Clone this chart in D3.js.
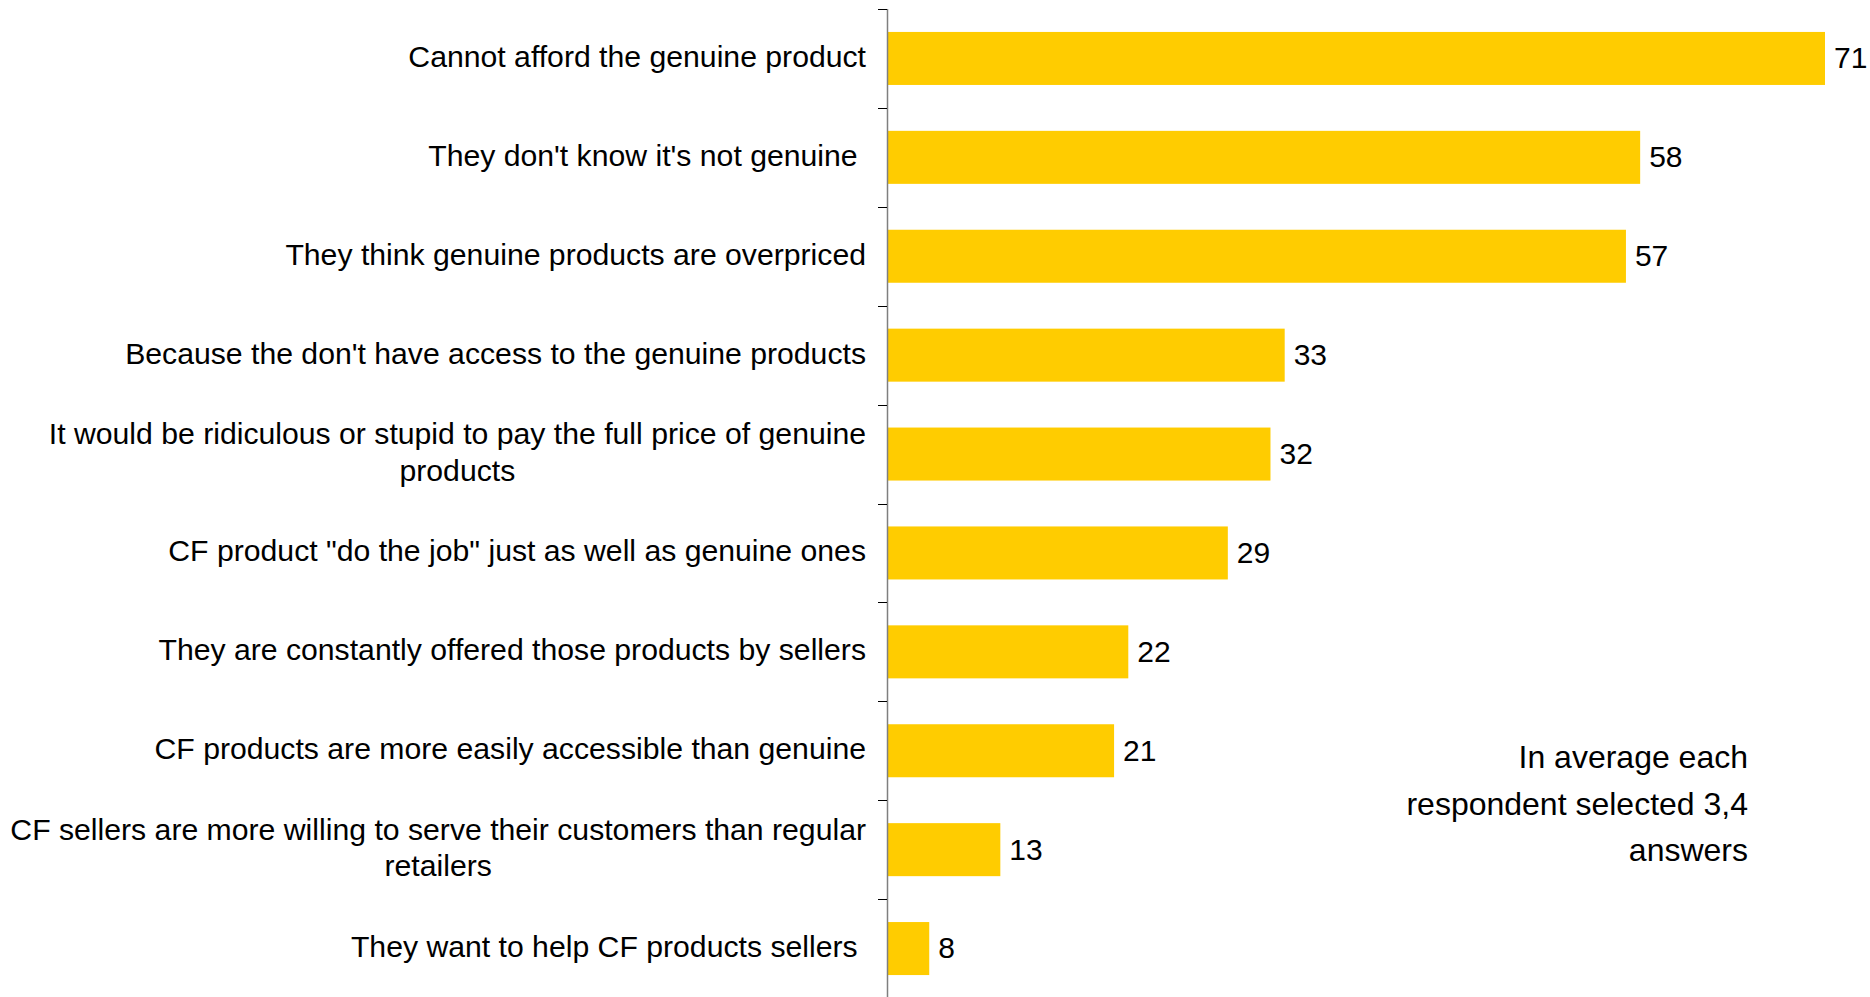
<!DOCTYPE html>
<html>
<head>
<meta charset="utf-8">
<script src="https://cdn.jsdelivr.net/npm/d3@7"></script>
<style>
  html, body { margin: 0; padding: 0; background: #fff; }
  svg { display: block; font-family: "Liberation Sans", Arial, sans-serif; }
</style>
</head>
<body>
<svg id="chart" width="1870" height="997"></svg>
<script>
// Reasons for buying counterfeit (CF) products, % of respondents
const categories = [
  "Cannot afford the genuine product",
  "They don't know it's not genuine ",
  "They think genuine products are overpriced",
  "Because the don't have access to the genuine products",
  "It would be ridiculous or stupid to pay the full price of genuine products",
  "CF product \"do the job\" just as well as genuine ones",
  "They are constantly offered those products by sellers",
  "CF products are more easily accessible than genuine",
  "CF sellers are more willing to serve their customers than regular retailers",
  "They want to help CF products sellers "
];
const values = [71, 58, 57, 33, 32, 29, 22, 21, 13, 8];
const noteLines = ["In average each", "respondent selected 3,4", "answers"];

const svg = d3.select("#chart");
const axisX = 888;
const labelRight = 866;
const wrapWidth = 880;

const x = d3.scaleLinear().domain([5.1, 71]).range([axisX, 1825]);
const y = d3.scaleBand()
  .domain(categories)
  .range([9, 998])
  .paddingInner(0.464)
  .paddingOuter(0.232);

// bars
svg.append("g").selectAll("rect")
  .data(values)
  .join("rect")
  .attr("x", axisX)
  .attr("y", (d, i) => y(categories[i]))
  .attr("width", d => x(d) - axisX)
  .attr("height", y.bandwidth())
  .attr("fill", "#ffcc00");

// value labels
svg.append("g").selectAll("text")
  .data(values)
  .join("text")
  .attr("x", d => x(d) + 9)
  .attr("y", (d, i) => y(categories[i]) + y.bandwidth() / 2)
  .attr("dy", "0.33em")
  .attr("font-size", 30)
  .attr("fill", "#000")
  .text(d => d);

// vertical axis with ticks at band boundaries
const axis = svg.append("g");
const start = y(categories[0]) - y.step() * y.paddingOuter();
const bounds = d3.range(categories.length + 1).map(i => start + i * y.step());
axis.append("line")
  .attr("x1", axisX - 0.5).attr("x2", axisX - 0.5)
  .attr("y1", bounds[0]).attr("y2", 1000)
  .attr("stroke", "#7f7f7f").attr("stroke-width", 1.5);
axis.selectAll("line.tick")
  .data(bounds)
  .join("line")
  .attr("class", "tick")
  .attr("x1", axisX - 10).attr("x2", axisX - 1)
  .attr("y1", d => Math.round(d) + 0.5).attr("y2", d => Math.round(d) + 0.5)
  .attr("stroke", "#000").attr("stroke-width", 1);

// category labels, wrapped and centred as a block against the axis
const catG = svg.append("g");
const lineHeight = 36.5;
categories.forEach((c, i) => {
  const t = catG.append("text")
    .attr("font-size", 30.2)
    .attr("fill", "#000")
    .style("white-space", "pre");
  const words = c.split(" ");
  let lines = [];
  let cur = "";
  const probe = t.append("tspan");
  words.forEach(w => {
    const test = cur === "" ? w : cur + " " + w;
    probe.text(test);
    if (probe.node().getComputedTextLength() > wrapWidth && cur !== "") {
      lines.push(cur);
      cur = w;
    } else {
      cur = test;
    }
  });
  lines.push(cur);
  probe.remove();
  const cy = y(c) + y.bandwidth() / 2;
  const y0 = cy - (lines.length - 1) * lineHeight / 2;
  if (lines.length === 1) {
    t.attr("text-anchor", "end")
      .append("tspan")
      .attr("x", labelRight)
      .attr("y", y0)
      .attr("dy", "0.28em")
      .text(lines[0]);
  } else {
    let maxW = 0;
    lines.forEach(l => {
      const p = t.append("tspan").text(l);
      maxW = Math.max(maxW, p.node().getComputedTextLength());
      p.remove();
    });
    t.attr("text-anchor", "middle");
    lines.forEach((l, k) => {
      t.append("tspan")
        .attr("x", labelRight - maxW / 2)
        .attr("y", y0 + k * lineHeight)
        .attr("dy", "0.28em")
        .text(l);
    });
  }
});

// note
svg.append("g").selectAll("text")
  .data(noteLines)
  .join("text")
  .attr("x", 1748)
  .attr("y", (d, i) => 768 + i * 46.5)
  .attr("text-anchor", "end")
  .attr("font-size", 32)
  .attr("fill", "#000")
  .text(d => d);
</script>
</body>
</html>
